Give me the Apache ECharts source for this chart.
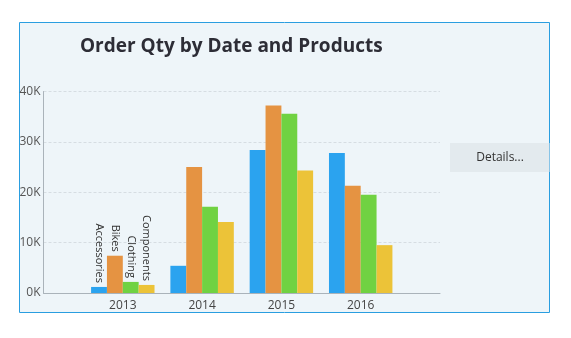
<!DOCTYPE html>
<html>
<head>
<meta charset="utf-8">
<script src="https://cdn.jsdelivr.net/npm/echarts@6/dist/echarts.min.js"></script>
<style>
html,body{margin:0;padding:0;background:#fff;}
#chart{width:571px;height:338px;}
</style>
</head>
<body>
<div id="chart"></div>
<script>
const years = ['2013', '2014', '2015', '2016'];
const seriesNames = ['Accessories', 'Bikes', 'Clothing', 'Components'];
const accessories = [1200, 5400, 28400, 27800];
const bikes = [7400, 25000, 37200, 21300];
const clothing = [2200, 17100, 35600, 19500];
const components = [1600, 14100, 24300, 9500];
const yTicks = [0, 10000, 20000, 30000, 40000];
const colors = ['#2ba3ef', '#e59342', '#70d242', '#ecc338'];

const allValues = [accessories, bikes, clothing, components];
const cats = [''].concat(years, ['']);

const chart = echarts.init(document.getElementById('chart'), null, {renderer: 'canvas'});

const series = seriesNames.map((name, s) => ({
  name: name,
  type: 'bar',
  barGap: 0,
  barCategoryGap: '20%',
  itemStyle: {color: colors[s]},
  emphasis: {disabled: true},
  data: [null].concat(allValues[s].map((v, i) => i === 0 ? {
    value: v,
    label: {
      show: true,
      position: 'top',
      rotate: -90,
      align: 'right',
      verticalAlign: 'middle',
      distance: 4,
      color: '#333',
      fontSize: 11,
      fontFamily: 'Open Sans',
      formatter: name
    }
  } : v), [null])
}));

chart.setOption({
  animation: false,
  backgroundColor: '#ffffff',
  textStyle: {fontFamily: 'Open Sans'},
  title: {
    text: 'Order Qty by Date and Products',
    left: 75,
    top: 32,
    textStyle: {fontSize: 19, fontWeight: 'bold', color: '#2d2d36', fontFamily: 'Open Sans'}
  },
  graphic: [
    {
      type: 'rect', z: -10, silent: true,
      shape: {x: 19.5, y: 22.5, width: 530, height: 290},
      style: {fill: '#eef5f9', stroke: '#2a9ee0', lineWidth: 1}
    },
    {
      type: 'rect', z: 10, silent: true,
      shape: {x: 450, y: 143, width: 99.5, height: 29},
      style: {fill: '#e3eaee'}
    },
    {
      type: 'text', z: 11, silent: true,
      x: 500, y: 157.5,
      style: {text: 'Details...', fill: '#333', fontSize: 12, fontFamily: 'Open Sans', align: 'center', verticalAlign: 'middle'}
    }
  ],
  grid: {left: 43.5, right: 131, top: 91.5, bottom: 45, containLabel: false},
  xAxis: {
    type: 'category',
    data: cats,
    boundaryGap: false,
    axisLine: {show: true, lineStyle: {color: '#aab3ba', width: 1}},
    axisTick: {show: false},
    axisLabel: {color: '#444', fontSize: 12, margin: 7, interval: 0},
    splitLine: {show: false}
  },
  yAxis: {
    type: 'value',
    min: yTicks[0],
    max: yTicks[yTicks.length - 1],
    interval: yTicks[1] - yTicks[0],
    axisLine: {show: true, lineStyle: {color: '#aab3ba', width: 1}},
    axisTick: {show: false},
    axisLabel: {color: '#555', fontSize: 12, margin: 3, formatter: v => (v / 1000) + 'K'},
    splitLine: {show: true, lineStyle: {color: '#d6dde2', type: [3, 2], width: 1}}
  },
  series: series
});
</script>
</body>
</html>
